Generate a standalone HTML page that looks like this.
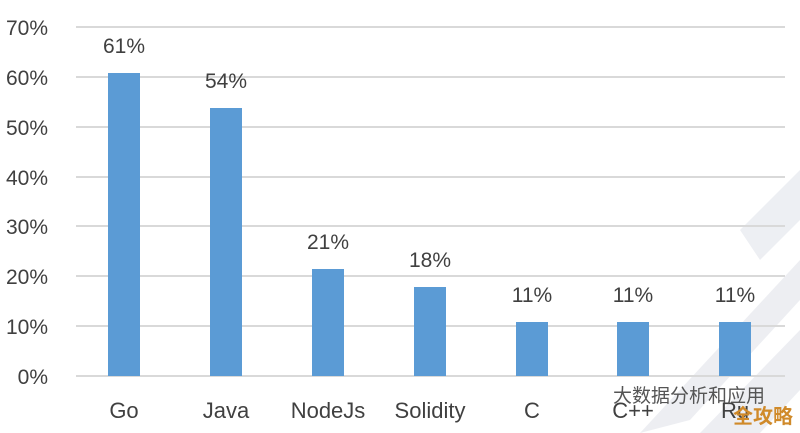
<!DOCTYPE html>
<html><head><meta charset="utf-8"><style>
html,body{margin:0;padding:0;background:#fff;}
svg{display:block;}
text{font-family:"Liberation Sans","Noto Sans CJK SC",sans-serif;fill:#404040;}
</style></head><body>
<svg width="800" height="433" viewBox="0 0 800 433">
<g fill="#e9ebf0" opacity="0.8">
<polygon points="700,433 800,330 800,390 760,433"/>
<polygon points="640,433 800,260 800,300 690,420"/>
<polygon points="740,230 800,170 800,220 760,260"/>
</g>
<g stroke="#d9d9d9" stroke-width="2">
<line x1="76" x2="785" y1="27" y2="27"/>
<line x1="76" x2="785" y1="77" y2="77"/>
<line x1="76" x2="785" y1="127" y2="127"/>
<line x1="76" x2="785" y1="177" y2="177"/>
<line x1="76" x2="785" y1="226" y2="226"/>
<line x1="76" x2="785" y1="276" y2="276"/>
<line x1="76" x2="785" y1="326" y2="326"/>
<line x1="76" x2="785" y1="376" y2="376"/>
</g>
<g font-size="21" text-anchor="end">
<text x="48" y="35">70%</text><text x="48" y="85">60%</text><text x="48" y="135">50%</text>
<text x="48" y="185">40%</text><text x="48" y="234">30%</text><text x="48" y="284">20%</text>
<text x="48" y="334">10%</text><text x="48" y="384">0%</text>
</g>
<g fill="#5b9bd5">
<rect x="108" y="73" width="32" height="303"/>
<rect x="210" y="108" width="32" height="268"/>
<rect x="312" y="269" width="32" height="107"/>
<rect x="414" y="287" width="32" height="89"/>
<rect x="516" y="322" width="32" height="54"/>
<rect x="617" y="322" width="32" height="54"/>
<rect x="719" y="322" width="32" height="54"/>
</g>
<g font-size="21" text-anchor="middle">
<text x="124" y="53">61%</text><text x="226" y="88">54%</text><text x="328" y="249">21%</text>
<text x="430" y="267">18%</text><text x="532" y="302">11%</text><text x="633" y="302">11%</text><text x="735" y="302">11%</text>
</g>
<g font-size="22" text-anchor="middle">
<text x="124" y="418">Go</text><text x="226" y="418">Java</text><text x="328" y="418">NodeJs</text>
<text x="430" y="418">Solidity</text><text x="532" y="418">C</text><text x="633" y="418">C++</text><text x="735" y="418">Ru</text>
</g>
<text x="613" y="402" font-size="19" style="fill:#555">大数据分析和应用</text>
<text x="733" y="423" font-size="20" font-weight="bold" style="fill:#d08a2a">全攻略</text>
</svg>
</body></html>
